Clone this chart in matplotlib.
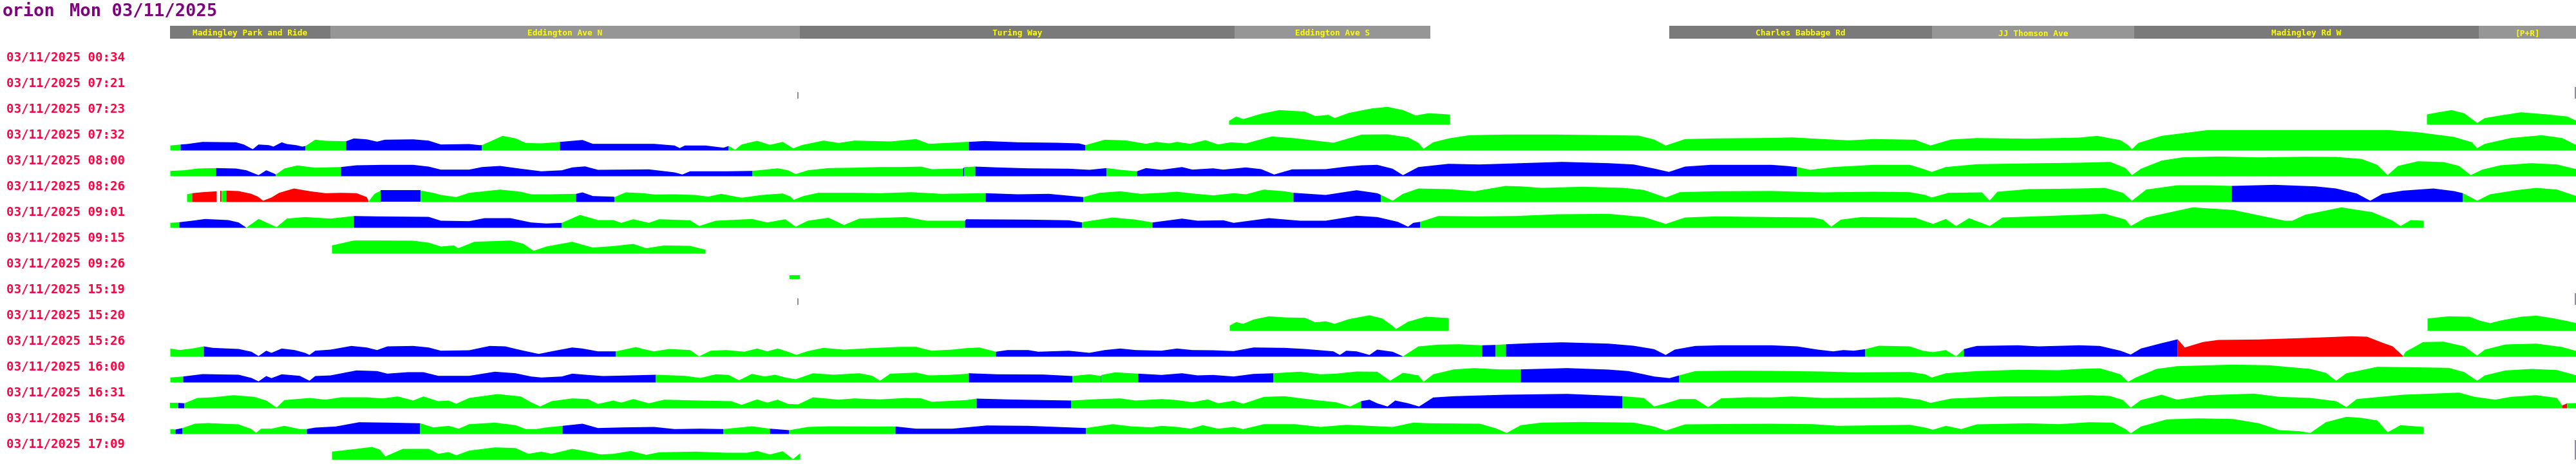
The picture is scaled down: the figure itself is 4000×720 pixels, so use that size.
import matplotlib
matplotlib.use("Agg")
import matplotlib.pyplot as plt

# ---------------- data ----------------
TITLE_NAME = "orion"
TITLE_DATE = "Mon 03/11/2025"

TIMES = ["03/11/2025 00:34", "03/11/2025 07:21", "03/11/2025 07:23", "03/11/2025 07:32",
         "03/11/2025 08:00", "03/11/2025 08:26", "03/11/2025 09:01", "03/11/2025 09:15",
         "03/11/2025 09:26", "03/11/2025 15:19", "03/11/2025 15:20", "03/11/2025 15:26",
         "03/11/2025 16:00", "03/11/2025 16:31", "03/11/2025 16:54", "03/11/2025 17:09"]

# road sections along the route (start, end, name)
ROADS = [(264, 513, "Madingley Park and Ride"), (513, 1242, "Eddington Ave N"),
         (1242, 1917, "Turing Way"), (1917, 2221, "Eddington Ave S"),
         (2592, 3000, "Charles Babbage Rd"), (3000, 3314, "JJ Thomson Ave"),
         (3314, 3849, "Madingley Rd W"), (3849, 4000, "[P+R]")]

# each run: (route position, value, colour of the stretch that starts here)
ROW_0034 = []
ROW_0721 = [(1238, 10, 'k'), (1240, 10, 'n'), (3998, 18, 'k'), (4000, 18, '-')]
ROW_0723 = [(1908, 6, 'g'), (1919, 12.7, 'g'), (1930, 8.7, 'g'), (1958, 17, 'g'), (1986, 22.7, 'g'),
            (2026, 20.3, 'g'), (2042, 13.3, 'g'), (2062, 15.3, 'g'), (2072, 10.3, 'g'), (2094, 18.3, 'g'),
            (2130, 25.3, 'g'), (2154, 27.7, 'g'), (2178, 22.7, 'g'), (2198, 14.3, 'g'), (2217, 17.7, 'g'),
            (2233, 17, 'g'), (2251, 15.7, 'n'),
            (3768, 16, 'g'), (3786, 19.3, 'g'), (3806, 22.7, 'g'), (3826, 17.7, 'g'), (3846, 2.7, 'g'),
            (3858, 10.3, 'g'), (3882, 14.3, 'g'), (3914, 19.3, 'g'), (3954, 16, 'g'), (3986, 12.7, 'g'),
            (4000, 6, '-')]
ROW_0732 = [(264, 7.7, 'g'), (280, 9.3, 'b'), (290, 10, 'b'), (314, 13.3, 'b'), (366, 12.7, 'b'),
            (378, 9.3, 'b'), (392, 2, 'b'), (401, 9.3, 'b'), (417, 8.3, 'b'), (424, 6, 'b'),
            (437, 12.7, 'b'), (445, 10, 'b'), (459, 8.3, 'b'), (469, 6, 'b'), (474, 7, 'g'),
            (489, 16.7, 'g'), (505, 15, 'g'), (537, 14.3, 'b'), (549, 18.7, 'b'), (569, 17.3, 'b'),
            (585, 13.7, 'b'), (597, 16.7, 'b'), (641, 17.3, 'b'), (665, 15.3, 'b'), (684, 9.3, 'b'),
            (728, 10, 'b'), (744, 8.3, 'b'), (748, 8.3, 'g'), (780, 22.7, 'g'), (800, 18.7, 'g'),
            (816, 11.7, 'g'), (840, 11, 'g'), (869, 13.3, 'b'), (904, 16.3, 'b'), (920, 10.3, 'b'),
            (967, 10.3, 'b'), (1015, 10.3, 'b'), (1047, 7.7, 'b'), (1055, 3.7, 'b'), (1063, 7.7, 'b'),
            (1095, 7.7, 'b'), (1123, 4.3, 'b'), (1131, 7, 'g'), (1141, 1, 'g'), (1151, 9.3, 'g'),
            (1175, 15, 'g'), (1195, 8.7, 'g'), (1215, 13.3, 'g'), (1231, 3.3, 'g'), (1246, 8.7, 'g'),
            (1278, 15.3, 'g'), (1302, 11.7, 'g'), (1326, 15.3, 'g'), (1382, 14, 'g'), (1422, 17.7, 'g'),
            (1442, 10.3, 'g'), (1500, 13.3, 'g'), (1504, 13.3, 'b'), (1528, 14.7, 'b'), (1580, 12.7, 'b'),
            (1640, 12, 'b'), (1675, 11, 'b'), (1685, 8.3, 'g'), (1715, 16.7, 'g'), (1747, 15.7, 'g'),
            (1779, 10.3, 'g'), (1795, 13.3, 'g'), (1815, 11, 'g'), (1827, 13.3, 'g'), (1848, 10.3, 'g'),
            (1871, 16, 'g'), (1891, 9.3, 'g'), (1911, 12.7, 'g'), (1934, 11, 'g'), (1974, 21.7, 'g'),
            (2010, 19, 'g'), (2050, 14.3, 'g'), (2070, 12, 'g'), (2114, 24.7, 'g'), (2154, 25, 'g'),
            (2186, 20.3, 'g'), (2202, 11.7, 'g'), (2210, 2.7, 'g'), (2225, 12.7, 'g'), (2249, 18.7, 'g'),
            (2281, 23.7, 'g'), (2337, 24.7, 'g'), (2417, 24.7, 'g'), (2497, 23.7, 'g'), (2544, 23, 'g'),
            (2568, 17, 'g'), (2586, 7.7, 'g'), (2616, 17.7, 'g'), (2664, 18.7, 'g'), (2750, 19.5, 'g'),
            (2782, 20.3, 'g'), (2830, 17.7, 'g'), (2870, 15.7, 'g'), (2909, 17.7, 'g'), (2973, 16.7, 'g'),
            (2997, 7.7, 'g'), (3029, 17, 'g'), (3069, 19.3, 'g'), (3149, 18.3, 'g'), (3228, 20, 'g'),
            (3256, 22.7, 'g'), (3292, 16, 'g'), (3304, 8.3, 'g'), (3310, 2, 'g'), (3320, 11.7, 'g'),
            (3356, 22.7, 'g'), (3428, 31.7, 'g'), (3547, 31.7, 'g'), (3707, 31.7, 'g'), (3754, 28.3, 'g'),
            (3810, 21, 'g'), (3838, 12.7, 'g'), (3846, 3.7, 'g'), (3858, 10.3, 'g'), (3898, 19.3, 'g'),
            (3946, 23.7, 'g'), (3978, 19.3, 'g'), (4000, 8.3, '-')]
ROW_0800 = [(264, 8.3, 'g'), (286, 9.3, 'g'), (306, 12, 'g'), (335, 12.7, 'b'), (366, 12, 'b'),
            (382, 9.3, 'b'), (401, 1.7, 'b'), (413, 9.3, 'b'), (425, 4.3, 'b'), (428, 2.7, 'g'),
            (441, 12, 'g'), (461, 16.7, 'g'), (489, 13.3, 'g'), (529, 14.3, 'b'), (553, 17, 'b'),
            (593, 17.7, 'b'), (641, 17.7, 'b'), (665, 15, 'b'), (684, 10.3, 'b'), (728, 10.3, 'b'),
            (748, 14.3, 'b'), (776, 16, 'b'), (808, 11.7, 'b'), (840, 7.7, 'b'), (872, 9.3, 'b'),
            (888, 13.7, 'b'), (908, 15.3, 'b'), (928, 10, 'b'), (967, 10.3, 'b'), (1007, 10.7, 'b'),
            (1047, 6, 'b'), (1059, 2.7, 'b'), (1071, 7.7, 'b'), (1127, 7.7, 'b'), (1168, 8.3, 'g'),
            (1207, 12.3, 'g'), (1223, 9.3, 'g'), (1235, 3.3, 'g'), (1254, 9.3, 'g'), (1286, 12.7, 'g'),
            (1326, 13.3, 'g'), (1366, 14.3, 'g'), (1398, 14.3, 'g'), (1430, 15, 'g'), (1446, 11, 'g'),
            (1495, 12, 'b'), (1497, 14.3, 'g'), (1514, 15, 'b'), (1548, 13.7, 'b'), (1596, 12.3, 'b'),
            (1659, 11.7, 'b'), (1691, 10, 'b'), (1718, 12.7, 'g'), (1739, 10, 'g'), (1765, 7.7, 'b'),
            (1779, 12.7, 'b'), (1803, 10, 'b'), (1835, 14.3, 'b'), (1851, 10.3, 'b'), (1883, 12.3, 'b'),
            (1899, 10.3, 'b'), (1934, 13.7, 'b'), (1958, 11, 'b'), (1978, 2.7, 'b'), (2006, 10.7, 'b'),
            (2058, 11, 'b'), (2090, 15, 'b'), (2114, 17, 'b'), (2138, 17.7, 'b'), (2162, 11.7, 'b'),
            (2178, 1.7, 'b'), (2202, 14.3, 'b'), (2249, 19.3, 'b'), (2297, 18.3, 'b'), (2361, 20.3, 'b'),
            (2425, 22.3, 'b'), (2497, 20.3, 'b'), (2536, 18.3, 'b'), (2568, 12, 'b'), (2591, 6.7, 'b'),
            (2616, 15, 'b'), (2656, 17.7, 'b'), (2750, 17.7, 'b'), (2774, 16, 'b'), (2790, 14.3, 'g'),
            (2810, 10, 'g'), (2846, 14.3, 'g'), (2909, 17.7, 'g'), (2965, 17.7, 'g'), (2985, 11.7, 'g'),
            (2999, 6.7, 'g'), (3021, 14.3, 'g'), (3069, 18.7, 'g'), (3149, 20, 'g'), (3228, 21, 'g'),
            (3276, 22.3, 'g'), (3300, 12.7, 'g'), (3310, 1.7, 'g'), (3324, 11.7, 'g'), (3356, 24.3, 'g'),
            (3388, 29.3, 'g'), (3444, 30.7, 'g'), (3507, 29.3, 'g'), (3579, 30.3, 'g'), (3627, 30, 'g'),
            (3667, 26.7, 'g'), (3691, 17.7, 'g'), (3707, 1.7, 'g'), (3723, 16, 'g'), (3754, 23.3, 'g'),
            (3794, 22, 'g'), (3818, 16, 'g'), (3836, 1.7, 'g'), (3854, 10.3, 'g'), (3882, 17, 'g'),
            (3930, 20.3, 'g'), (3970, 18.3, 'g'), (4000, 11, '-')]
ROW_0826 = [(290, 12, 'g'), (298, 13.7, 'r'), (314, 15.3, 'r'), (336, 16.7, 'n'), (342, 17, 'r'),
            (344, 17, 'g'), (351, 17.7, 'r'), (370, 17, 'r'), (390, 12.7, 'r'), (401, 7.7, 'r'),
            (408, 2, 'r'), (421, 7, 'r'), (433, 14.3, 'r'), (456, 21, 'r'), (481, 16.7, 'r'),
            (505, 13.7, 'r'), (529, 14.3, 'r'), (553, 13.7, 'r'), (569, 7.7, 'r'), (572, 1, 'g'),
            (581, 12.7, 'g'), (591, 17.7, 'b'), (653, 17.7, 'g'), (672, 14.3, 'g'), (684, 11, 'g'),
            (708, 7.7, 'g'), (728, 14.3, 'g'), (776, 19.3, 'g'), (808, 16, 'g'), (824, 12, 'g'),
            (856, 12, 'g'), (894, 12.7, 'b'), (904, 15, 'b'), (920, 9.3, 'b'), (952, 8.3, 'b'),
            (954, 7.7, 'g'), (971, 15, 'g'), (999, 13.7, 'g'), (1015, 11.7, 'g'), (1047, 12, 'g'),
            (1079, 11, 'g'), (1099, 8.3, 'g'), (1119, 12.7, 'g'), (1151, 6.7, 'g'), (1183, 11, 'g'),
            (1215, 13.3, 'g'), (1227, 8.3, 'g'), (1232, 3.3, 'g'), (1247, 9.3, 'g'), (1270, 14.3, 'g'),
            (1326, 14.3, 'g'), (1366, 13.7, 'g'), (1414, 15.3, 'g'), (1462, 12.7, 'g'), (1500, 13.3, 'g'),
            (1530, 13.7, 'b'), (1580, 12, 'b'), (1628, 12.7, 'b'), (1682, 7.7, 'g'), (1707, 14.3, 'g'),
            (1739, 16.7, 'g'), (1771, 12.7, 'g'), (1803, 14.3, 'g'), (1827, 16, 'g'), (1851, 13.3, 'g'),
            (1883, 10.3, 'g'), (1915, 13.7, 'g'), (1934, 12, 'g'), (1962, 19.3, 'g'), (1994, 16.7, 'g'),
            (2008, 14.3, 'b'), (2058, 11, 'b'), (2106, 18.3, 'b'), (2138, 13.7, 'b'), (2144, 11, 'g'),
            (2162, 2, 'g'), (2178, 12.7, 'g'), (2202, 21, 'g'), (2249, 20, 'g'), (2289, 16.7, 'g'),
            (2337, 25, 'g'), (2361, 24.3, 'g'), (2393, 22, 'g'), (2457, 23.7, 'g'), (2520, 22, 'g'),
            (2552, 18.7, 'g'), (2586, 7, 'g'), (2608, 15.3, 'g'), (2664, 16.7, 'g'), (2750, 17.2, 'g'),
            (2790, 16, 'g'), (2830, 15, 'g'), (2909, 16, 'g'), (2965, 15.3, 'g'), (2989, 11, 'g'),
            (2999, 7, 'g'), (3025, 14.3, 'g'), (3077, 15, 'g'), (3089, 2, 'g'), (3101, 16, 'g'),
            (3149, 20, 'g'), (3228, 21, 'g'), (3268, 22, 'g'), (3296, 14.3, 'g'), (3310, 2, 'g'),
            (3332, 19.3, 'g'), (3380, 26, 'g'), (3428, 26, 'g'), (3465, 25, 'b'), (3531, 26.7, 'b'),
            (3595, 24.3, 'b'), (3627, 21, 'b'), (3659, 13.3, 'b'), (3680, 2, 'b'), (3699, 12.7, 'b'),
            (3731, 17.7, 'b'), (3778, 21, 'b'), (3810, 17, 'b'), (3824, 13.7, 'g'), (3846, 2, 'g'),
            (3866, 12, 'g'), (3906, 18.3, 'g'), (3938, 22, 'g'), (3970, 19.3, 'g'), (4000, 9.3, '-')]
ROW_0901 = [(264, 7.7, 'g'), (278, 8.7, 'b'), (298, 11, 'b'), (318, 13.7, 'b'), (354, 12, 'b'),
            (370, 8.3, 'b'), (382, 0.3, 'g'), (401, 13.7, 'g'), (429, 1, 'g'), (445, 14.3, 'g'),
            (473, 16.7, 'g'), (513, 14.3, 'g'), (549, 18.3, 'b'), (585, 17.7, 'b'), (665, 17, 'b'),
            (684, 11, 'b'), (728, 10.3, 'b'), (752, 15, 'b'), (792, 15, 'b'), (824, 8.3, 'b'),
            (848, 6.7, 'b'), (872, 7.7, 'g'), (900, 20, 'g'), (928, 12, 'g'), (952, 12, 'g'),
            (964, 7.7, 'g'), (983, 13.3, 'g'), (1007, 7.7, 'g'), (1023, 13.3, 'g'), (1071, 11.7, 'g'),
            (1085, 2.7, 'g'), (1111, 11, 'g'), (1167, 13.7, 'g'), (1191, 8.3, 'g'), (1219, 13.3, 'g'),
            (1235, 1.7, 'g'), (1254, 11, 'g'), (1286, 15.7, 'g'), (1310, 4.3, 'g'), (1334, 14.3, 'g'),
            (1406, 16.7, 'g'), (1438, 11, 'g'), (1498, 11, 'b'), (1500, 13.3, 'b'), (1596, 12.7, 'b'),
            (1659, 11.7, 'b'), (1680, 8.3, 'g'), (1683, 9.3, 'g'), (1727, 16, 'g'), (1763, 12.7, 'g'),
            (1789, 8.3, 'b'), (1835, 14.3, 'b'), (1859, 11, 'b'), (1899, 11.7, 'b'), (1915, 7.7, 'b'),
            (1970, 15, 'b'), (2018, 11, 'b'), (2058, 11, 'b'), (2106, 18.7, 'b'), (2138, 16.7, 'b'),
            (2170, 9.3, 'b'), (2186, 1.7, 'b'), (2194, 7.7, 'b'), (2205, 9.3, 'g'), (2233, 18.3, 'g'),
            (2297, 17.7, 'g'), (2353, 18.3, 'g'), (2417, 21, 'g'), (2497, 21.7, 'g'), (2552, 16.7, 'g'),
            (2586, 6, 'g'), (2616, 16, 'g'), (2664, 17.7, 'g'), (2750, 16.7, 'g'), (2814, 16, 'g'),
            (2830, 12.7, 'g'), (2843, 1.7, 'g'), (2858, 12.7, 'g'), (2890, 16.7, 'g'), (2973, 15.7, 'g'),
            (3001, 6, 'g'), (3021, 13.7, 'g'), (3037, 2.7, 'g'), (3057, 15, 'g'), (3089, 2.7, 'g'),
            (3109, 16, 'g'), (3188, 18.7, 'g'), (3268, 21.7, 'g'), (3300, 12.7, 'g'), (3308, 2.7, 'g'),
            (3332, 16, 'g'), (3404, 31.7, 'g'), (3467, 27.7, 'g'), (3547, 11, 'g'), (3559, 11, 'g'),
            (3579, 20.3, 'g'), (3635, 31.7, 'g'), (3683, 24.3, 'g'), (3715, 11, 'g'), (3727, 2.7, 'g'),
            (3743, 12, 'g'), (3763, 11, '-')]
ROW_0915 = [(515, 12.7, 'g'), (549, 20.3, 'g'), (593, 20.3, 'g'), (641, 20, 'g'), (665, 17, 'g'),
            (684, 11, 'g'), (704, 12.7, 'g'), (711, 8.3, 'g'), (736, 18.3, 'g'), (792, 20.3, 'g'),
            (812, 15.3, 'g'), (828, 4.3, 'g'), (848, 11, 'g'), (888, 18.3, 'g'), (920, 9.3, 'g'),
            (952, 11.7, 'g'), (983, 15, 'g'), (1003, 8.3, 'g'), (1031, 12.7, 'g'), (1071, 12, 'g'),
            (1095, 6, '-')]
ROW_0926 = [(1226, 6.5, 'g'), (1242, 6.5, '-')]
ROW_1519 = [(1238, 10, 'k'), (1240, 10, 'n'), (3998, 18, 'k'), (4000, 18, '-')]
ROW_1520 = [(1909, 8.3, 'g'), (1919, 13.7, 'g'), (1930, 11, 'g'), (1946, 17.7, 'g'), (1970, 22.7, 'g'),
            (1994, 21, 'g'), (2026, 20.3, 'g'), (2042, 13.3, 'g'), (2058, 15, 'g'), (2072, 11, 'g'),
            (2094, 18.3, 'g'), (2126, 24.3, 'g'), (2146, 19.3, 'g'), (2162, 7.7, 'g'), (2167, 2.7, 'g'),
            (2186, 14.3, 'g'), (2213, 22, 'g'), (2249, 20, 'n'),
            (3769, 19.3, 'g'), (3802, 22.7, 'g'), (3834, 22, 'g'), (3850, 16, 'g'), (3866, 12, 'g'),
            (3882, 16, 'g'), (3914, 22, 'g'), (3938, 23.7, 'g'), (3962, 20, 'g'), (3986, 15.3, 'g'),
            (4000, 12, '-')]
ROW_1526 = [(264, 12.7, 'g'), (278, 10.3, 'g'), (298, 12.7, 'g'), (316, 16, 'b'), (330, 13.7, 'b'),
            (370, 12, 'b'), (390, 7.7, 'b'), (401, 1, 'b'), (413, 9.3, 'b'), (421, 6, 'b'),
            (437, 12.7, 'b'), (457, 10.3, 'b'), (473, 6, 'b'), (480, 2.7, 'b'), (489, 9.3, 'b'),
            (513, 11, 'b'), (545, 16.7, 'b'), (569, 14.3, 'b'), (585, 10.3, 'b'), (601, 16, 'b'),
            (641, 16.7, 'b'), (665, 14.3, 'b'), (684, 9.3, 'b'), (728, 10, 'b'), (760, 16.7, 'b'),
            (784, 16, 'b'), (808, 10.3, 'b'), (836, 4.3, 'b'), (856, 8.3, 'b'), (888, 14.3, 'b'),
            (904, 12.7, 'b'), (928, 8.3, 'b'), (956, 8.3, 'g'), (987, 15, 'g'), (999, 11.7, 'g'),
            (1015, 8.3, 'g'), (1039, 12, 'g'), (1071, 10.3, 'g'), (1085, 0.5, 'g'), (1103, 9.3, 'g'),
            (1127, 10.3, 'g'), (1155, 7.7, 'g'), (1175, 12.7, 'g'), (1191, 8.3, 'g'), (1207, 12.7, 'g'),
            (1223, 7.7, 'g'), (1236, 2.7, 'g'), (1254, 8.7, 'g'), (1278, 13.7, 'g'), (1310, 11, 'g'),
            (1350, 13.3, 'g'), (1398, 15.3, 'g'), (1422, 15.3, 'g'), (1446, 9.3, 'g'), (1478, 11, 'g'),
            (1500, 13.3, 'g'), (1520, 14.3, 'g'), (1546, 7.7, 'b'), (1564, 10.3, 'b'), (1596, 10.3, 'b'),
            (1612, 7.7, 'b'), (1659, 9.3, 'b'), (1691, 6, 'b'), (1715, 10.3, 'b'), (1739, 12.7, 'b'),
            (1763, 10.3, 'b'), (1803, 9.3, 'b'), (1827, 12.7, 'b'), (1851, 10.3, 'b'), (1883, 10, 'b'),
            (1915, 8.7, 'b'), (1946, 14.3, 'b'), (1994, 13.7, 'b'), (2026, 12, 'b'), (2070, 8.3, 'b'),
            (2080, 2.7, 'b'), (2090, 9.3, 'b'), (2106, 8.3, 'b'), (2126, 2.7, 'b'), (2138, 11, 'b'),
            (2162, 7.7, 'b'), (2178, 0.5, 'g'), (2202, 16, 'g'), (2233, 18.7, 'g'), (2265, 19.3, 'g'),
            (2301, 17.7, 'b'), (2322, 18.3, 'g'), (2338, 19.3, 'b'), (2377, 21, 'b'), (2425, 22.3, 'b'),
            (2497, 20.3, 'b'), (2536, 17, 'b'), (2568, 11.7, 'b'), (2586, 2.7, 'b'), (2600, 11, 'b'),
            (2632, 16.7, 'b'), (2672, 17.7, 'b'), (2750, 17.7, 'b'), (2790, 16, 'b'), (2822, 11, 'b'),
            (2846, 8.3, 'b'), (2862, 10.3, 'b'), (2878, 9.3, 'b'), (2896, 11.7, 'g'), (2917, 17, 'g'),
            (2965, 16, 'g'), (2985, 9.3, 'g'), (3001, 7, 'g'), (3021, 10.3, 'g'), (3037, 0.5, 'g'),
            (3049, 11.7, 'b'), (3069, 16.7, 'b'), (3133, 17.7, 'b'), (3165, 16, 'b'), (3228, 17.7, 'b'),
            (3260, 16.7, 'b'), (3292, 9.3, 'b'), (3308, 3.3, 'b'), (3324, 12.7, 'b'), (3356, 21, 'b'),
            (3381, 27, 'r'), (3392, 14.3, 'r'), (3420, 22.7, 'r'), (3444, 26, 'r'), (3507, 26.7, 'r'),
            (3587, 29.3, 'r'), (3651, 31.7, 'r'), (3675, 31, 'r'), (3699, 21.7, 'r'), (3715, 16, 'r'),
            (3731, 1, 'g'), (3735, 7.7, 'g'), (3762, 22.7, 'g'), (3794, 23.3, 'g'), (3826, 16, 'g'),
            (3846, 1.7, 'g'), (3858, 11, 'g'), (3890, 19, 'g'), (3938, 20.3, 'g'), (3978, 15, 'g'),
            (4000, 8.7, '-')]
ROW_1600 = [(264, 7.7, 'g'), (284, 9.3, 'b'), (314, 13, 'b'), (370, 12, 'b'), (390, 7, 'b'),
            (401, 1.7, 'b'), (413, 10, 'b'), (421, 6.7, 'b'), (437, 12.7, 'b'), (465, 10.3, 'b'),
            (480, 2.7, 'b'), (489, 10, 'b'), (513, 11, 'b'), (553, 18.7, 'b'), (585, 17.7, 'b'),
            (601, 13.7, 'b'), (633, 16, 'b'), (657, 16, 'b'), (680, 10.3, 'b'), (728, 10.3, 'b'),
            (768, 16.7, 'b'), (800, 14.3, 'b'), (824, 9.3, 'b'), (840, 7.7, 'b'), (872, 9.3, 'b'),
            (888, 13.7, 'b'), (912, 11.7, 'b'), (936, 10, 'b'), (967, 10.7, 'b'), (1018, 12, 'g'),
            (1063, 10.3, 'g'), (1087, 7, 'g'), (1111, 12.7, 'g'), (1131, 11.7, 'g'), (1147, 3.3, 'g'),
            (1167, 13.3, 'g'), (1187, 9.3, 'g'), (1203, 12, 'g'), (1219, 7.7, 'g'), (1235, 5, 'g'),
            (1262, 14.3, 'g'), (1294, 12, 'g'), (1334, 14.3, 'g'), (1354, 10.3, 'g'), (1366, 2.7, 'g'),
            (1382, 13.7, 'g'), (1422, 15.3, 'g'), (1442, 11, 'g'), (1470, 11.7, 'g'), (1500, 13.3, 'g'),
            (1504, 14.3, 'b'), (1548, 12.7, 'b'), (1620, 12.3, 'b'), (1665, 10, 'g'), (1691, 12.7, 'g'),
            (1709, 10, 'b'), (1710, 11.7, 'g'), (1731, 15.7, 'g'), (1767, 13.7, 'b'), (1803, 11.7, 'b'),
            (1835, 14.3, 'b'), (1859, 11, 'b'), (1883, 11.7, 'b'), (1915, 9.3, 'b'), (1946, 13.3, 'b'),
            (1977, 14.3, 'g'), (2018, 16.7, 'g'), (2050, 12.7, 'g'), (2074, 13.7, 'g'), (2106, 17, 'g'),
            (2138, 16.7, 'g'), (2158, 2.7, 'g'), (2178, 15, 'g'), (2202, 11, 'g'), (2210, 1, 'g'),
            (2225, 12.7, 'g'), (2257, 20.3, 'g'), (2289, 22.3, 'g'), (2329, 20.3, 'g'), (2361, 20.3, 'b'),
            (2433, 22.3, 'b'), (2497, 20, 'b'), (2528, 17.7, 'b'), (2552, 12.7, 'b'), (2568, 9.3, 'b'),
            (2592, 6.7, 'b'), (2607, 11, 'g'), (2632, 17.7, 'g'), (2696, 18.3, 'g'), (2750, 18, 'g'),
            (2830, 17, 'g'), (2878, 15.7, 'g'), (2965, 16.3, 'g'), (2989, 12.7, 'g'), (2999, 7.7, 'g'),
            (3021, 14.3, 'g'), (3069, 17.7, 'g'), (3133, 19.7, 'g'), (3196, 19, 'g'), (3228, 21, 'g'),
            (3260, 22, 'g'), (3292, 12.7, 'g'), (3304, 1, 'g'), (3316, 7.7, 'g'), (3348, 21, 'g'),
            (3380, 25.3, 'g'), (3467, 27.7, 'g'), (3523, 26.7, 'g'), (3587, 21, 'g'), (3611, 15, 'g'),
            (3627, 2.7, 'g'), (3643, 14.3, 'g'), (3691, 24.3, 'g'), (3739, 23.7, 'g'), (3802, 22.7, 'g'),
            (3826, 16, 'g'), (3846, 2.7, 'g'), (3858, 11, 'g'), (3890, 18.7, 'g'), (3930, 21, 'g'),
            (3970, 19.3, 'g'), (4000, 11, '-')]
ROW_1631 = [(264, 8.3, 'g'), (276, 8.3, 'b'), (286, 7.7, 'g'), (306, 16, 'g'), (330, 17, 'g'),
            (362, 20.3, 'g'), (394, 17.7, 'g'), (413, 12, 'g'), (429, 1, 'g'), (441, 12.7, 'g'),
            (481, 16, 'g'), (505, 13.3, 'g'), (529, 17, 'g'), (569, 17, 'g'), (593, 15.3, 'g'),
            (617, 18.3, 'g'), (641, 12, 'g'), (657, 18.3, 'g'), (680, 11, 'g'), (696, 12, 'g'),
            (708, 7, 'g'), (728, 16, 'g'), (772, 22, 'g'), (808, 18.3, 'g'), (824, 9.3, 'g'),
            (838, 2.7, 'g'), (856, 11, 'g'), (888, 15.3, 'g'), (912, 14.3, 'g'), (928, 6.7, 'g'),
            (952, 12, 'g'), (964, 8.7, 'g'), (983, 14.3, 'g'), (1007, 7.7, 'g'), (1031, 13.3, 'g'),
            (1087, 12, 'g'), (1135, 11, 'g'), (1151, 5.3, 'g'), (1175, 13.7, 'g'), (1191, 8.7, 'g'),
            (1207, 13.3, 'g'), (1223, 6.7, 'g'), (1239, 6, 'g'), (1262, 17, 'g'), (1302, 13.3, 'g'),
            (1326, 15.3, 'g'), (1366, 13.7, 'g'), (1406, 16, 'g'), (1430, 15.3, 'g'), (1446, 10, 'g'),
            (1500, 12.7, 'g'), (1516, 15, 'b'), (1564, 13.7, 'b'), (1620, 12.7, 'b'), (1663, 12, 'g'),
            (1707, 14.3, 'g'), (1739, 15.3, 'g'), (1763, 12, 'g'), (1803, 14.3, 'g'), (1827, 12.7, 'g'),
            (1851, 9.3, 'g'), (1875, 13.7, 'g'), (1891, 7.7, 'g'), (1915, 11.7, 'g'), (1930, 7, 'g'),
            (1962, 17.7, 'g'), (1994, 18.7, 'g'), (2042, 12.7, 'g'), (2074, 9.3, 'g'), (2096, 2.7, 'g'),
            (2113, 11, 'b'), (2126, 13.3, 'b'), (2138, 7.7, 'b'), (2154, 2.7, 'b'), (2166, 12, 'b'),
            (2186, 7.7, 'b'), (2203, 2.7, 'b'), (2225, 16.7, 'b'), (2257, 18.7, 'b'), (2337, 21, 'b'),
            (2433, 22.3, 'b'), (2519, 18.7, 'g'), (2552, 16, 'g'), (2568, 2.7, 'g'), (2584, 7, 'g'),
            (2608, 14.3, 'g'), (2632, 14.3, 'g'), (2652, 1.7, 'g'), (2672, 15.3, 'g'), (2712, 17, 'g'),
            (2750, 16.8, 'g'), (2782, 18.3, 'g'), (2830, 16, 'g'), (2878, 16.3, 'g'), (2949, 17, 'g'),
            (2981, 13.3, 'g'), (2997, 8.3, 'g'), (3029, 15, 'g'), (3109, 18.3, 'g'), (3188, 18.7, 'g'),
            (3244, 20.3, 'g'), (3276, 19, 'g'), (3296, 12.7, 'g'), (3308, 1, 'g'), (3324, 12.7, 'g'),
            (3356, 21, 'g'), (3380, 13.3, 'g'), (3428, 20.3, 'g'), (3499, 22.7, 'g'), (3539, 17.7, 'g'),
            (3587, 16, 'g'), (3627, 11, 'g'), (3643, 1.7, 'g'), (3659, 14.3, 'g'), (3731, 21, 'g'),
            (3818, 24.3, 'g'), (3842, 17.7, 'g'), (3874, 13.3, 'g'), (3898, 17.7, 'g'), (3938, 20.3, 'g'),
            (3970, 16, 'g'), (3978, 4.3, 'r'), (3986, 7.7, 'g'), (4000, 8, '-')]
ROW_1654 = [(264, 7.7, 'g'), (272, 7, 'b'), (283, 9.3, 'g'), (302, 16, 'g'), (322, 17, 'g'),
            (370, 15, 'g'), (390, 7.7, 'g'), (397, 1.7, 'g'), (405, 8.3, 'g'), (421, 8.3, 'g'),
            (441, 12.7, 'g'), (465, 7.7, 'g'), (476, 7.7, 'b'), (489, 10, 'b'), (521, 11.7, 'b'),
            (557, 18.3, 'b'), (601, 17.7, 'b'), (652, 16.7, 'g'), (672, 10.3, 'g'), (696, 12.7, 'g'),
            (712, 8.3, 'g'), (728, 15.3, 'g'), (768, 17.7, 'g'), (800, 13.7, 'g'), (816, 7.7, 'g'),
            (832, 7.7, 'g'), (848, 10.3, 'g'), (873, 12.7, 'b'), (904, 16, 'b'), (928, 9.3, 'b'),
            (967, 10.3, 'b'), (1015, 11, 'b'), (1047, 7.7, 'b'), (1087, 8.3, 'b'), (1123, 7.7, 'g'),
            (1167, 12, 'g'), (1195, 8.3, 'b'), (1225, 6, 'g'), (1254, 11, 'g'), (1286, 12, 'g'),
            (1350, 11.7, 'g'), (1390, 11.7, 'b'), (1422, 8.3, 'b'), (1478, 8.3, 'b'), (1500, 10.3, 'b'),
            (1532, 13.3, 'b'), (1596, 12.7, 'b'), (1686, 9.3, 'g'), (1727, 15.3, 'g'), (1755, 12, 'g'),
            (1787, 10.3, 'g'), (1803, 12.7, 'g'), (1827, 11, 'g'), (1848, 8.3, 'g'), (1867, 13.7, 'g'),
            (1891, 8.3, 'g'), (1915, 11, 'g'), (1930, 7.7, 'g'), (1962, 15.3, 'g'), (2010, 15.3, 'g'),
            (2050, 11, 'g'), (2090, 14.3, 'g'), (2162, 11, 'g'), (2194, 17.7, 'g'), (2217, 16.7, 'g'),
            (2297, 16, 'g'), (2321, 9.3, 'g'), (2339, 1.7, 'g'), (2361, 13.7, 'g'), (2393, 17.7, 'g'),
            (2457, 18.7, 'g'), (2536, 17.7, 'g'), (2568, 11.7, 'g'), (2586, 5.3, 'g'), (2616, 15, 'g'),
            (2696, 15.7, 'g'), (2750, 16, 'g'), (2814, 15.3, 'g'), (2854, 12.7, 'g'), (2965, 14.3, 'g'),
            (2989, 10, 'g'), (3001, 6.7, 'g'), (3021, 12.7, 'g'), (3045, 7.7, 'g'), (3069, 15, 'g'),
            (3149, 16.7, 'g'), (3196, 15.3, 'g'), (3244, 18.3, 'g'), (3280, 17.7, 'g'), (3300, 7.7, 'g'),
            (3308, 1, 'g'), (3324, 11.7, 'g'), (3364, 22.7, 'g'), (3412, 24.3, 'g'), (3467, 23.3, 'g'),
            (3507, 16.7, 'g'), (3539, 6, 'g'), (3571, 4.3, 'g'), (3587, 1.7, 'g'), (3611, 18.3, 'g'),
            (3643, 26.7, 'g'), (3667, 25, 'g'), (3691, 21, 'g'), (3707, 2.7, 'g'), (3727, 13.7, 'g'),
            (3750, 12, 'g'), (3763, 11, '-')]
ROW_1709 = [(515, 12.7, 'g'), (553, 17, 'g'), (577, 20, 'g'), (589, 16, 'g'), (598, 5.3, 'g'),
            (625, 17, 'g'), (665, 17, 'g'), (680, 9.3, 'g'), (696, 12, 'g'), (708, 7, 'g'),
            (728, 14.3, 'g'), (768, 19.3, 'g'), (800, 18.3, 'g'), (820, 9.3, 'g'), (840, 12.7, 'g'),
            (856, 9.3, 'g'), (888, 17, 'g'), (916, 12, 'g'), (932, 8.3, 'g'), (952, 9.3, 'g'),
            (979, 13.7, 'g'), (1003, 7.7, 'g'), (1023, 11.7, 'g'), (1079, 12.7, 'g'), (1127, 11, 'g'),
            (1159, 11, 'g'), (1175, 13.7, 'g'), (1195, 8.3, 'g'), (1215, 13.3, 'g'), (1231, 1, 'g'),
            (1242, 10.3, 'n'), (3998, 30, 'k'), (4000, 30, '-')]

ROWS = [ROW_0034, ROW_0721, ROW_0723, ROW_0732, ROW_0800, ROW_0826, ROW_0901, ROW_0915,
        ROW_0926, ROW_1519, ROW_1520, ROW_1526, ROW_1600, ROW_1631, ROW_1654, ROW_1709]

# ---------------- styles ----------------
COLORS = {'g': '#00FF00', 'b': '#0000FF', 'r': '#FF0000', 'k': '#8C8C9C'}
HEADER_SHADES = ['#7A7A7A', '#969696']
LABEL_COLOR = '#FF0040'
TITLE_COLOR = '#800080'
HEADER_TEXT = '#FFFF00'
MONO = 'DejaVu Sans Mono'

W, H = 4000, 720
fig = plt.figure(figsize=(W / 100, H / 100), dpi=100, facecolor='white')
ax = fig.add_axes([0, 0, 1, 1])
ax.set_xlim(0, W)
ax.set_ylim(H, 0)
ax.axis('off')

# title
ax.text(4, 25, TITLE_NAME, color=TITLE_COLOR, fontsize=19.5, family=MONO,
        fontweight='bold', ha='left', va='baseline')
ax.text(108, 25, TITLE_DATE, color=TITLE_COLOR, fontsize=19.5, family=MONO,
        fontweight='bold', ha='left', va='baseline')

# header of road sections
for k, (a, b, name) in enumerate(ROADS):
    ax.fill_between([a, b], 40, 60, color=HEADER_SHADES[k % 2], lw=0, antialiased=False)
    ax.text((a + b) / 2, 55.5, name, color=HEADER_TEXT, fontsize=9.3, family=MONO,
            fontweight='bold', ha='center', va='baseline')


def draw_row(base, pts):
    n = len(pts)
    i = 0
    while i < n - 1:
        c = pts[i][2]
        j = i
        while j < n - 1 and pts[j][2] == c:
            j += 1
        if c in COLORS:
            xs = [p[0] for p in pts[i:j + 1]]
            tops = [base - p[1] for p in pts[i:j + 1]]
            ax.fill_between(xs, tops, base, color=COLORS[c], lw=0, antialiased=False)
        i = j


for r, (label, pts) in enumerate(zip(TIMES, ROWS)):
    ybase = 95 + 40 * r
    ax.text(10, ybase, label, color=LABEL_COLOR, fontsize=13.7, family=MONO,
            fontweight='bold', ha='left', va='baseline')
    if pts:
        draw_row(113 + 40 * r, pts)

fig.savefig('out.png', dpi=100, facecolor='white')
